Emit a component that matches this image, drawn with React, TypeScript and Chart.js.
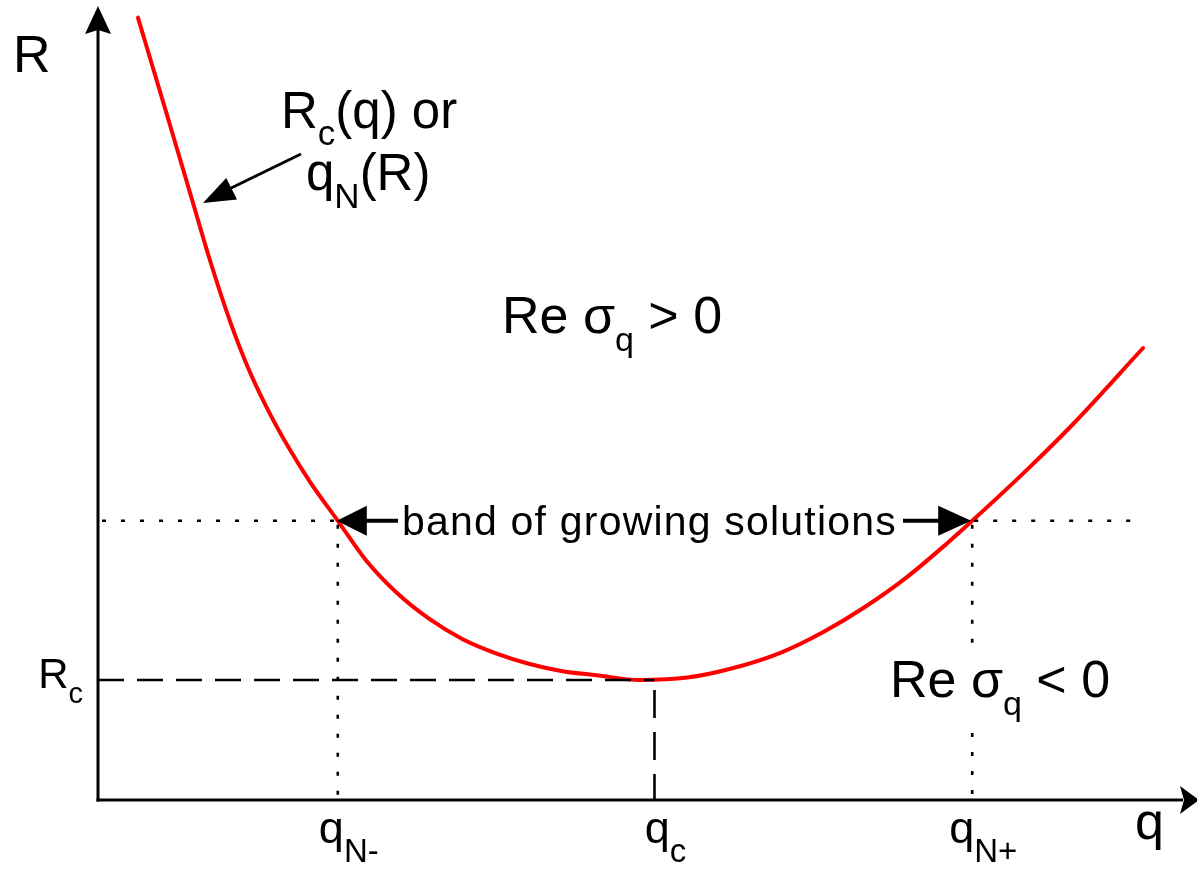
import React, { useEffect, useRef } from "react";
import { Chart, registerables } from "chart.js";

Chart.register(...registerables);

// Neutral-stability curve R_c(q): wavenumber q and control parameter R
const CURVE_Q = [0.40, 0.67, 0.94, 1.12, 1.32, 1.52, 1.72, 1.92, 2.12, 2.40, 2.68, 2.99, 3.32, 3.65, 3.99, 4.32, 4.65, 4.99, 5.42, 5.90, 6.33, 6.83, 7.26, 7.66, 8.10, 8.50, 8.75, 9.30, 9.76, 10.46];
const CURVE_R = [9.78, 8.65, 7.51, 6.75, 5.99, 5.35, 4.83, 4.38, 3.98, 3.49, 3.00, 2.59, 2.26, 2.01, 1.83, 1.70, 1.61, 1.56, 1.50, 1.53, 1.64, 1.84, 2.10, 2.40, 2.79, 3.21, 3.49, 4.13, 4.70, 5.65];

// Marked wavenumbers and parameter levels
const Q_TICK_VALUES = [2.40, 5.57, 8.75];
const Q_TICK_LABELS: [string, string][] = [["q", "N-"], ["q", "c"], ["q", "N+"]];
const R_TICK_VALUES = [1.5];
const R_TICK_LABELS: [string, string][] = [["R", "c"]];
const R_BAND = 3.49; // level R of the band of growing solutions

const FAMILY = '"Liberation Sans", Arial, Helvetica, sans-serif';

type Part = { t: string; sub?: boolean };

function richWidth(ctx: CanvasRenderingContext2D, parts: Part[], main: number, sub: number) {
  let w = 0;
  for (const p of parts) {
    ctx.font = `${p.sub ? sub : main}px ${FAMILY}`;
    w += ctx.measureText(p.t).width;
  }
  return w;
}

function drawRich(
  ctx: CanvasRenderingContext2D,
  parts: Part[],
  x: number,
  y: number,
  main: number,
  sub: number,
  drop: number,
  align: "left" | "center" | "right" = "left"
) {
  const w = richWidth(ctx, parts, main, sub);
  let cx = align === "left" ? x : align === "center" ? x - w / 2 : x - w;
  ctx.textBaseline = "alphabetic";
  ctx.textAlign = "left";
  ctx.fillStyle = "#000";
  for (const p of parts) {
    ctx.font = `${p.sub ? sub : main}px ${FAMILY}`;
    ctx.fillText(p.t, cx, p.sub ? y + drop : y);
    cx += ctx.measureText(p.t).width;
  }
}

function line(ctx: CanvasRenderingContext2D, x1: number, y1: number, x2: number, y2: number, width: number, dash: number[] = []) {
  ctx.save();
  ctx.strokeStyle = "#000";
  ctx.lineWidth = width;
  ctx.setLineDash(dash);
  ctx.beginPath();
  ctx.moveTo(x1, y1);
  ctx.lineTo(x2, y2);
  ctx.stroke();
  ctx.restore();
}

// Filled arrow head with its tip at (tx, ty), pointing away from (fx, fy)
function arrowHead(ctx: CanvasRenderingContext2D, fx: number, fy: number, tx: number, ty: number, len: number, half: number, notch = 0) {
  const a = Math.atan2(ty - fy, tx - fx);
  const ux = Math.cos(a), uy = Math.sin(a);
  const bx = tx - ux * len, by = ty - uy * len;
  ctx.save();
  ctx.fillStyle = "#000";
  ctx.beginPath();
  ctx.moveTo(tx, ty);
  ctx.lineTo(bx - uy * half, by + ux * half);
  ctx.lineTo(bx + ux * notch, by + uy * notch);
  ctx.lineTo(bx + uy * half, by - ux * half);
  ctx.closePath();
  ctx.fill();
  ctx.restore();
}

const diagramPlugin = {
  id: "stabilityDiagram",
  afterDatasetsDraw(chart: any) {
    const ctx: CanvasRenderingContext2D = chart.ctx;
    const xs = chart.scales.x;
    const ys = chart.scales.y;
    const X = (v: number) => xs.getPixelForValue(v);
    const Y = (v: number) => ys.getPixelForValue(v);
    const x0 = X(0);
    const y0 = Y(0);
    const area = chart.chartArea;

    // axes with arrow heads
    line(ctx, x0, y0 + 1.5, x0, area.top + 30, 3);
    arrowHead(ctx, x0, y0, x0, area.top + 6, 28, 13, 4);
    line(ctx, x0 - 1.5, y0, area.right - 14, y0, 3);
    arrowHead(ctx, x0, y0, area.right + 2, y0, 19, 14, 4);

    const dotted = [4, 15];
    const dashedH = [26, 13];
    const dashedV = [28, 14];
    const [qNm, qC, qNp] = Q_TICK_VALUES;
    const rC = R_TICK_VALUES[0];

    // R_c level and q_c position
    line(ctx, x0, Y(rC), X(qC), Y(rC), 2.6, dashedH);
    line(ctx, X(qC), Y(rC) + 10, X(qC), y0, 2.6, dashedV);

    // band level and its edges q_N-, q_N+
    line(ctx, x0 + 4, Y(R_BAND), X(qNm), Y(R_BAND), 2.6, dotted);
    line(ctx, X(qNp) + 2, Y(R_BAND), 1140, Y(R_BAND), 2.6, dotted);
    line(ctx, X(qNm), Y(R_BAND) + 4, X(qNm), y0, 2.6, dotted);
    line(ctx, X(qNp), Y(R_BAND) + 4, X(qNp), Y(R_BAND) + 130, 2.6, dotted);
    line(ctx, X(qNp), 733, X(qNp), y0, 2.6, dotted);

    // arrows marking the band
    line(ctx, X(qNm) + 25, Y(R_BAND), 398, Y(R_BAND), 4);
    arrowHead(ctx, 398, Y(R_BAND), X(qNm) - 1, Y(R_BAND), 30, 15);
    line(ctx, 903, Y(R_BAND), X(qNp) - 25, Y(R_BAND), 4);
    arrowHead(ctx, 903, Y(R_BAND), X(qNp) - 1, Y(R_BAND), 33, 15);

    // pointer to the curve
    line(ctx, 301, 154, 225, 191, 3);
    arrowHead(ctx, 301, 154, 203, 203, 32, 12);
  },
  afterDraw(chart: any) {
    const ctx: CanvasRenderingContext2D = chart.ctx;
    const xs = chart.scales.x;
    const ys = chart.scales.y;
    const y0 = ys.getPixelForValue(0);
    const x0 = xs.getPixelForValue(0);

    // axis titles
    drawRich(ctx, [{ t: "R" }], 13, 72, 52, 34, 0);
    drawRich(ctx, [{ t: "q" }], 1135, 839, 52, 34, 0);

    // tick labels
    Q_TICK_VALUES.forEach((v, i) => {
      const [m, s] = Q_TICK_LABELS[i];
      drawRich(ctx, [{ t: m }, { t: s, sub: true }], xs.getPixelForValue(v) + 11, y0 + 43, 45, 33, 19, "center");
    });
    R_TICK_VALUES.forEach((v, i) => {
      const [m, s] = R_TICK_LABELS[i];
      drawRich(ctx, [{ t: m }, { t: s, sub: true }], x0 - 15, ys.getPixelForValue(v) + 8, 42, 29, 15, "right");
    });

    // curve label
    drawRich(ctx, [{ t: "R" }, { t: "c", sub: true }, { t: "(q) or" }], 281, 128, 51, 35, 17);
    drawRich(ctx, [{ t: "q" }, { t: "N", sub: true }, { t: "(R)" }], 306, 190, 51, 35, 18);

    // stability regions
    drawRich(ctx, [{ t: "Re σ" }, { t: "q", sub: true }, { t: " > 0" }], 502, 333, 52, 34, 18);
    drawRich(ctx, [{ t: "Re σ" }, { t: "q", sub: true }, { t: " < 0" }], 890, 697, 52, 34, 18);

    // band caption
    ctx.save();
    (ctx as any).letterSpacing = "1.2px";
    ctx.font = `41px ${FAMILY}`;
    ctx.fillStyle = "#000";
    ctx.textAlign = "left";
    ctx.textBaseline = "alphabetic";
    ctx.fillText("band of growing solutions", 402, 535);
    ctx.restore();
  },
};

export default function App() {
  const canvasRef = useRef<HTMLCanvasElement | null>(null);

  useEffect(() => {
    const canvas = canvasRef.current;
    if (!canvas) return;
    const chart = new Chart(canvas, {
      type: "line",
      data: {
        datasets: [
          {
            data: CURVE_Q.map((q, i) => ({ x: q, y: CURVE_R[i] })),
            borderColor: "#ff0000",
            borderWidth: 4,
            borderCapStyle: "round",
            borderJoinStyle: "round",
            pointRadius: 0,
            cubicInterpolationMode: "monotone",
            fill: false,
          },
        ],
      },
      options: {
        animation: false,
        responsive: false,
        events: [],
        layout: { padding: { left: 98, right: 0, top: 0, bottom: 72 } },
        scales: {
          x: { type: "linear", min: 0, max: 11, display: false },
          y: { type: "linear", min: 0, max: 10, display: false },
        },
        plugins: {
          legend: { display: false },
          tooltip: { enabled: false },
          title: { display: false },
        },
      },
      plugins: [diagramPlugin],
    } as any);
    return () => chart.destroy();
  }, []);

  return (
    <div style={{ position: "fixed", left: 0, top: 0, width: 1197, height: 872, background: "#fff" }}>
      <canvas ref={canvasRef} width={1197} height={872} style={{ display: "block" }} />
    </div>
  );
}
